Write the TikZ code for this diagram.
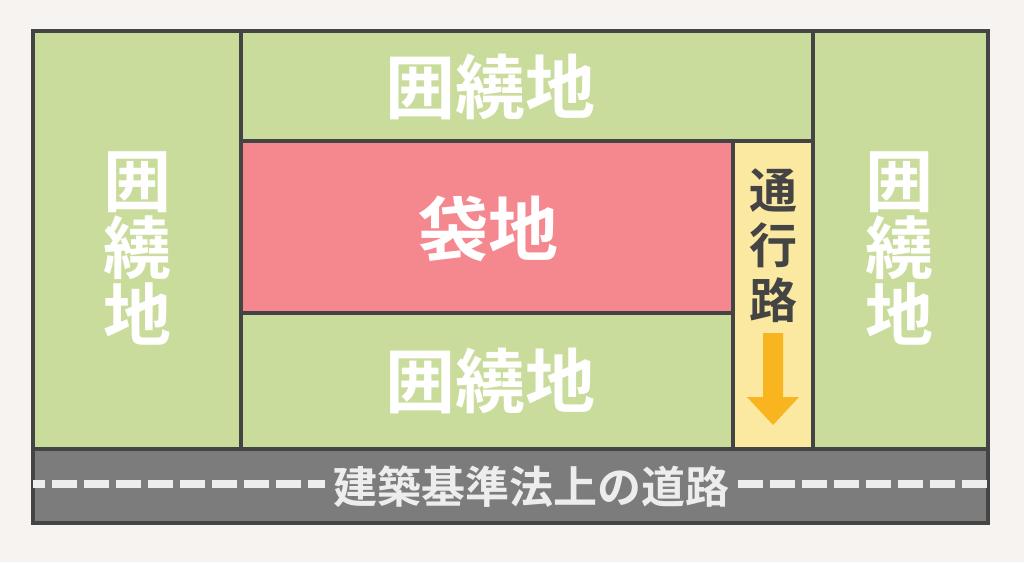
\documentclass[tikz,border=0pt]{standalone}
\usepackage{fontspec}
\newfontfamily\cjk{Noto Sans CJK JP Bold}
\definecolor{bgc}{HTML}{F6F3F0}
\definecolor{grn}{HTML}{C9DC9B}
\definecolor{pnk}{HTML}{F5878F}
\definecolor{ylw}{HTML}{FBE9A1}
\definecolor{edge}{HTML}{444444}
\definecolor{roadc}{HTML}{7C7C7C}
\definecolor{dashc}{HTML}{EDEDED}
\definecolor{arr}{HTML}{F9B51F}
\definecolor{dtext}{HTML}{444444}
\tikzset{
  plot/.style={draw=edge,line width=3.2pt},
  big/.style={text=white,font=\cjk\fontsize{70}{72}\selectfont,inner sep=0pt},
  vert/.style={text=white,font=\cjk\fontsize{68}{67}\selectfont,inner sep=0pt,align=center},
}
\begin{document}
\begin{tikzpicture}[x=1pt,y=-1pt]
\useasboundingbox (0,0) rectangle (1024,562);
\fill[bgc] (0,0) rectangle (1024,562);
% plots
\filldraw[plot,fill=grn] (33,31) rectangle (241,449);
\filldraw[plot,fill=grn] (241,31) rectangle (813,141);
\filldraw[plot,fill=pnk] (241,141) rectangle (733,313);
\filldraw[plot,fill=grn] (241,313) rectangle (733,449);
\filldraw[plot,fill=ylw] (733,141) rectangle (813,449);
\filldraw[plot,fill=grn] (813,31) rectangle (988,449);
% road
\filldraw[plot,fill=roadc] (33,449) rectangle (988,523);
\coordinate (rl) at (33,484);
\coordinate (rr) at (988,484);
\coordinate (tl) at (325,484);
\coordinate (tr) at (738,484);
\draw[dashc,line width=8pt,dash pattern=on 25pt off 7pt,dash phase=13pt] (rl) -- (tl);
\draw[dashc,line width=8pt,dash pattern=on 25pt off 7pt] (tr) -- (rr);
\node[text=dashc,font=\cjk\fontsize{44}{48}\selectfont,inner sep=0pt] (roadlbl) at (531,487) {建築基準法上の道路};
% labels
\node[big] (top) at (490,87) {囲繞地};
\node[big] (bot) at (490,381) {囲繞地};
\node[big] (fukuro) at (488,229) {袋地};
\node[vert] (left) at (137,248) {囲\\繞\\地};
\node[vert] (right) at (899,248) {囲\\繞\\地};
\node[text=dtext,font=\cjk\fontsize{48}{55}\selectfont,inner sep=0pt,align=center] (tsuko) at (773,246) {通\\行\\路};
% arrow
\fill[arr] (763,333) -- (783,333) -- (783,397) -- (799,397) -- (773,425) -- (747,397) -- (763,397) -- cycle;
\end{tikzpicture}
\end{document}
